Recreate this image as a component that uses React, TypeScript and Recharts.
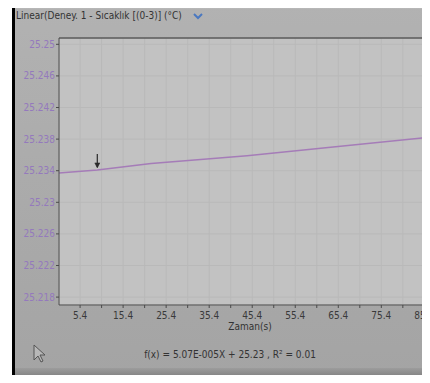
import { LineChart, Line, XAxis, YAxis, CartesianGrid, ReferenceLine, ReferenceDot } from "recharts";

const TITLE = "Linear(Deney. 1 - Sıcaklık [(0-3)] (°C)";
const X_LABEL = "Zaman(s)";
const FORMULA = "f(x) = 5.07E-005X + 25.23 , R² = 0.01";

// readings
const times = [0.5, 9.4, 21.9, 44.2, 64.2, 87.5, 89.5];
const temps = [25.2337, 25.2341, 25.2349, 25.2359, 25.237, 25.2383, 25.2384];

const xTicks = [5.4, 10.4, 15.4, 20.4, 25.4, 30.4, 35.4, 40.4, 45.4, 50.4, 55.4, 60.4, 65.4, 70.4, 75.4, 80.4, 85.4];
const xTickLabels = ["5.4", "", "15.4", "", "25.4", "", "35.4", "", "45.4", "", "55.4", "", "65.4", "", "75.4", "", "85.4"];
const yTicks = [25.218, 25.222, 25.226, 25.23, 25.234, 25.238, 25.242, 25.246, 25.25];
const yTickLabels = ["25.218", "25.222", "25.226", "25.23", "25.234", "25.238", "25.242", "25.246", "25.25"];

const cursorMark = { t: 9.4, v: 25.2341 };

const data = times.map((t, i) => ({ t, v: temps[i] }));

const FONT = "'DejaVu Sans', sans-serif";
const Y_MIN = 25.217;
const Y_MAX = 25.2508;

function ArrowMark(props: any) {
  const { cx, cy } = props;
  return (
    <g stroke="#2a2a2a" fill="#2a2a2a">
      <line x1={cx} y1={cy - 16} x2={cx} y2={cy - 3} strokeWidth={1.2} />
      <path d={`M${cx - 2.5},${cy - 7} L${cx},${cy - 2} L${cx + 2.5},${cy - 7} Z`} strokeWidth={0.5} />
    </g>
  );
}

function XTick(props: any) {
  const { x, y, payload } = props;
  const label = xTickLabels[xTicks.indexOf(payload.value)] ?? "";
  return (
    <text x={x} y={y + 9} textAnchor="middle" fill="#3a3a3a" fontSize={10} fontFamily={FONT} style={{ fontStretch: "condensed" }}>
      {label}
    </text>
  );
}

function YTick(props: any) {
  const { x, y, payload } = props;
  const label = yTickLabels[yTicks.indexOf(payload.value)] ?? "";
  return (
    <text x={x} y={y + 3.5} textAnchor="end" fill="#9479bd" fontSize={10} fontFamily={FONT} style={{ fontStretch: "condensed" }}>
      {label}
    </text>
  );
}

const textStyle = { fontFamily: FONT, fontStretch: "condensed" as const, fontSize: 10, color: "#333", whiteSpace: "nowrap" as const };

export default function App() {
  return (
    <div style={{ margin: -8, width: 430, height: 383, position: "relative", overflow: "hidden", background: "#fff" }}>
      <div
        style={{
          position: "absolute",
          left: 12,
          top: 0,
          width: 418,
          height: 381,
          boxSizing: "border-box",
          background: "linear-gradient(#b2b2b2, #a9a9a9 60%, #a4a4a4)",
          borderLeft: "3px solid #000",
          borderTop: "3px solid #000",
          borderBottom: "3px solid #000",
          borderRight: "2px solid #3a3a3a",
        }}
      >
        <div style={{ position: "absolute", left: 0, right: 0, top: 0, height: 6, background: "linear-gradient(#d0d0d0, #b4b4b4)" }} />
        <div style={{ position: "absolute", left: 0, right: 0, bottom: 0, height: 10, background: "linear-gradient(#9c9c9c, #7e7e7e)" }} />
      </div>

      <div style={{ position: "absolute", left: 0, top: 0 }}>
        <LineChart width={442} height={383} data={data} margin={{ top: 38, right: 0, bottom: 48, left: 0 }}>
          <CartesianGrid stroke="#b9b9b9" fill="#c2c2c2" vertical horizontal />
          <XAxis
            dataKey="t"
            type="number"
            domain={[0.5, 89.5]}
            ticks={xTicks}
            interval={0}
            height={30}
            stroke="#4a4a4a"
            tickSize={3}
            tickMargin={2}
            tick={<XTick />}
            allowDataOverflow
          />
          <YAxis
            type="number"
            domain={[Y_MIN, Y_MAX]}
            ticks={yTicks}
            interval={0}
            width={59}
            stroke="#4a4a4a"
            tickSize={3}
            tickMargin={1}
            tick={<YTick />}
            allowDataOverflow
          />
          <ReferenceLine y={Y_MAX} stroke="#5a5a5a" strokeWidth={1.5} />
          <Line
            type="linear"
            dataKey="v"
            stroke="#a57cb8"
            strokeWidth={1.5}
            dot={false}
            isAnimationActive={false}
          />
          <ReferenceDot x={cursorMark.t} y={cursorMark.v} shape={ArrowMark} />
        </LineChart>
      </div>

      <div style={{ ...textStyle, position: "absolute", left: 16, top: 9, lineHeight: "14px" }}>
        {TITLE}
      </div>
      <svg style={{ position: "absolute", left: 193, top: 11 }} width={10} height={10}>
        <path d="M1,3 L5,7 L9,3" stroke="#4a78c0" strokeWidth={2} fill="none" />
      </svg>

      <div style={{ ...textStyle, position: "absolute", left: 200, width: 100, top: 321, textAlign: "center" }}>
        {X_LABEL}
      </div>
      <div style={{ ...textStyle, position: "absolute", left: 100, width: 260, top: 349, textAlign: "center" }}>
        {FORMULA}
      </div>

      <svg style={{ position: "absolute", left: 33, top: 344 }} width={14} height={20}>
        <path d="M1,1 L1,16 L5,12 L8,18 L10,17 L7,11 L12,11 Z" fill="#b8b8b8" stroke="#555" strokeWidth={1} />
      </svg>
    </div>
  );
}
